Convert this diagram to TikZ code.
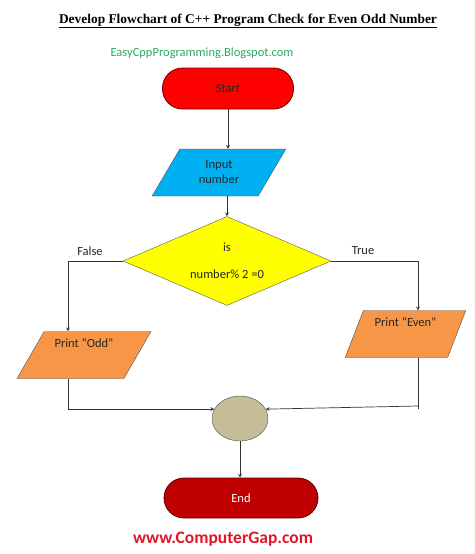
\documentclass[tikz,border=0pt]{standalone}
\usepackage{fontspec}
\setmainfont{Carlito}
\newfontfamily\titlefont{Liberation Serif}
\usetikzlibrary{shapes.geometric}
\usetikzlibrary{arrows}
\usetikzlibrary{calc}

\definecolor{startred}{RGB}{255,0,0}
\definecolor{endred}{RGB}{192,0,0}
\definecolor{inblue}{RGB}{0,176,240}
\definecolor{testyellow}{RGB}{255,255,0}
\definecolor{outorange}{RGB}{247,150,70}
\definecolor{jointan}{RGB}{196,189,151}
\definecolor{blogreen}{RGB}{40,170,100}
\definecolor{sitered}{RGB}{225,20,40}

\tikzset{
	body/.style={font=\fontsize{12.5}{15}\selectfont, text=black!85},
	terminal/.style={body, draw, rounded corners=20pt, minimum width=131pt, minimum height=41pt, line width=0.8pt},
	io/.style={body, trapezium, trapezium left angle=60, trapezium right angle=120, trapezium stretches=true, draw=black!70, align=center, minimum width=134pt, minimum height=47pt, inner sep=2pt},
	decision/.style={body, diamond, shape aspect=2.34, draw=black!65, fill=testyellow, align=center, minimum width=208pt, minimum height=89pt, inner sep=0pt},
	joint/.style={ellipse, draw=black!70, fill=jointan, minimum width=56pt, minimum height=45pt},
	flow/.style={->, >=stealth, draw=black!80, line width=0.7pt},
	wire/.style={draw=black!80, line width=0.7pt}
}

\begin{document}
\begin{tikzpicture}[x=1pt, y=-1pt]
	\useasboundingbox (0,0) rectangle (474,554);
	\node[font=\titlefont\bfseries\fontsize{13.4}{16}\selectfont] (title) at (248,21) {\underline{Develop Flowchart of C++ Program Check for Even Odd Number}};
	\node[font=\fontsize{12.5}{15}\selectfont, text=blogreen] (blog) at (202,53) {EasyCppProgramming.Blogspot.com};

	\node[terminal, fill=startred, draw=startred!45!black] (start) at (228,88.5) {Start};
	\node[io, fill=inblue] (input) at (219,172.5) {Input\\number};
	\node[decision] (test) at (227,261) {is\\[12pt]number\% 2 =0};
	\node[io, fill=outorange, text depth=24pt] (odd) at (84,355) {Print “Odd”};
	\node[io, fill=outorange, text depth=24pt, trapezium left angle=69, trapezium right angle=111, minimum width=121pt] (even) at (405.5,334) {Print “Even”};
	\node[joint] (join) at (240,418.5) {};
	\node[terminal, fill=endred, draw=endred!45!black, text=white, minimum width=154pt, minimum height=40pt] (end) at (241,498) {End};
	\node[font=\bfseries\fontsize{17.5}{20}\selectfont, text=sitered] (site) at (223,539) {www.ComputerGap.com};

	\node[body] (falselabel) at (90,251) {False};
	\node[body] (truelabel) at (363,251) {True};
	\coordinate (falseturn) at (68,261);
	\coordinate (trueturn) at (418,261);
	\coordinate (evenjoin) at (418,406);

	\draw[flow] (start.south) -- (start.south |- input.north);
	\draw[flow] (test.north |- input.south) -- (test.north);
	\draw[flow] (test.west) -- (falseturn) -- (falseturn |- odd.north);
	\draw[flow] (test.east) -- (trueturn) -- (trueturn |- even.north);
	\draw[flow] (falseturn |- odd.south) |- (join.160);
	\draw[wire] (trueturn |- even.south) -- ($(evenjoin)+(0,3)$);
	\draw[flow] (evenjoin) -- (join.20);
	\draw[flow] (join.south) -- (join.south |- end.north);
\end{tikzpicture}
\end{document}
